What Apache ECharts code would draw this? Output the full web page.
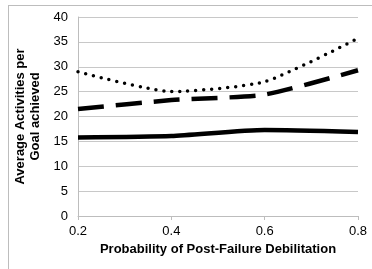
<!DOCTYPE html>
<html lang="en">
<head>
    <meta charset="utf-8">
    <title>debilitation</title>
    <script src="https://cdn.jsdelivr.net/npm/echarts@6/dist/echarts.min.js"></script>
    <style>
        body { margin: 0; background: #fff; overflow: hidden; }
        #frame { position: absolute; left: 8px; top: 5px; width: 400px; height: 300px; border: 1px solid #bdbdbd; box-sizing: border-box; }
    </style>
</head>
<body>
    <div id="frame"></div>
    <div id="main" style="position:absolute;left:0;top:0;width: 372px;height:269px;"></div>
    <script>
    var xLabels = ['0.2', '0.4', '0.6', '0.8'];
    var solidVals = [15.8, 16.1, 17.3, 16.9];
    var dashVals = [21.5, 23.3, 24.4, 29.3];
    var dotVals = [29.0, 25.0, 27.0, 35.7];

    var myChart = echarts.init(document.getElementById('main'));
    var labelFont = {fontFamily: 'Liberation Sans', fontSize: 13, color: '#000'};

    var option = {
        animation: false,
        grid: {left: 78, right: 14, top: 17, bottom: 53},
        xAxis: {
            type: 'category',
            data: xLabels,
            boundaryGap: false,
            name: 'Probability of Post-Failure Debilitation',
            nameLocation: 'middle',
            nameGap: 27,
            nameTextStyle: {fontFamily: 'Liberation Sans', fontSize: 13, fontWeight: 'bold', color: '#000'},
            axisLine: {lineStyle: {color: '#bdbdbd'}},
            axisTick: {show: true, length: 4, lineStyle: {color: '#bdbdbd'}},
            axisLabel: Object.assign({margin: 9}, labelFont)
        },
        yAxis: {
            type: 'value',
            min: 0,
            max: 40,
            interval: 5,
            name: 'Average Activities per\nGoal achieved',
            nameLocation: 'middle',
            nameGap: 30,
            nameTextStyle: {fontFamily: 'Liberation Sans', fontSize: 13, fontWeight: 'bold', color: '#000', lineHeight: 15},
            axisLine: {show: true, lineStyle: {color: '#bdbdbd'}},
            axisTick: {show: false},
            splitLine: {lineStyle: {color: '#c8c8c8'}},
            axisLabel: Object.assign({margin: 10}, labelFont)
        },
        series: [
            {
                name: 'solid',
                type: 'line',
                data: solidVals,
                smooth: 0.2,
                symbol: 'none',
                lineStyle: {color: '#000', width: 4.5}
            },
            {
                name: 'dashed',
                type: 'line',
                data: dashVals,
                smooth: 0.2,
                symbol: 'none',
                lineStyle: {color: '#000', width: 4.5, type: [26, 12]}
            },
            {
                name: 'dotted',
                type: 'line',
                data: dotVals,
                smooth: 0.2,
                symbol: 'none',
                lineStyle: {color: '#000', width: 3.5, type: [0, 8], cap: 'round'}
            }
        ]
    };
    myChart.setOption(option);
    </script>
</body>
</html>
